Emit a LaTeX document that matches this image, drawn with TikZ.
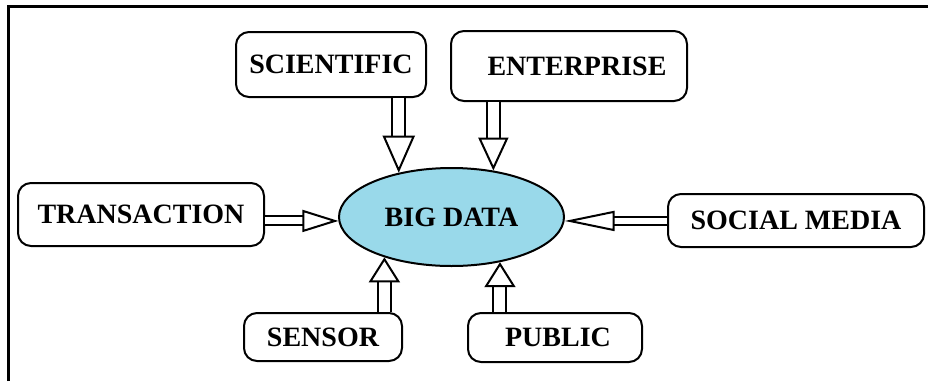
\documentclass[tikz,border=0pt]{standalone}
\usepackage{fontspec}
\setmainfont{Liberation Serif}
\usetikzlibrary{arrows.meta,shapes.geometric}
\definecolor{hubblue}{RGB}{153,217,234}
\tikzset{
  srcbox/.style={draw,line width=2pt,rounded corners=13pt,inner sep=0pt,
    font=\bfseries\fontsize{28}{32}\selectfont},
  hubnode/.style={draw,ellipse,line width=2pt,fill=hubblue,inner sep=0pt,
    minimum width=225pt,minimum height=98pt,font=\bfseries\fontsize{28}{32}\selectfont},
  dblarr/.style n args={3}{line width=2pt,double=white,double distance=#1,
    -{Triangle[open,fill=white,line width=2pt,length=#2,width=#3]}}
}

\begin{document}
\begin{tikzpicture}[x=1pt,y=-1pt]
\useasboundingbox (0,0) rectangle (928,381);
% frame on two sides
\draw[line width=3pt] (8.5,381) -- (8.5,6.5) -- (928,6.5);

\node[hubnode] (big) at (451.5,217) {BIG DATA};

\node[srcbox,minimum width=190pt,minimum height=65pt] (sci) at (331,64.5) {SCIENTIFIC};
\node[srcbox,minimum width=236pt,minimum height=70pt] (ent) at (569,66) {\hspace*{16pt}ENTERPRISE};
\node[srcbox,minimum width=246pt,minimum height=63pt] (trans) at (141,214.5) {TRANSACTION};
\node[srcbox,minimum width=256pt,minimum height=53pt] (soc) at (796,220.5) {SOCIAL MEDIA};
\node[srcbox,minimum width=158pt,minimum height=48pt] (sen) at (323,337) {SENSOR};
\node[srcbox,minimum width=174pt,minimum height=49pt] (pub) at (555,337.5) {\hspace*{6pt}PUBLIC};

\draw[dblarr={11pt}{37pt}{32pt}] (big.140.7 |- sci.south) -- (big.140.7);
\draw[dblarr={11pt}{33pt}{30pt}] (big.48.7 |- ent.south) -- (big.48.7);
\draw[dblarr={7pt}{36pt}{22pt}] (big.182 -| trans.east) -- (big.182);
\draw[dblarr={6pt}{50pt}{20pt}] (big.358 -| soc.west) -- (big.358);
\draw[dblarr={11pt}{25pt}{31pt}] (big.211.6 |- sen.north) -- (big.211.6);
\draw[dblarr={11pt}{25pt}{31pt}] (big.317.4 |- pub.north) -- (big.317.4);
\end{tikzpicture}
\end{document}
